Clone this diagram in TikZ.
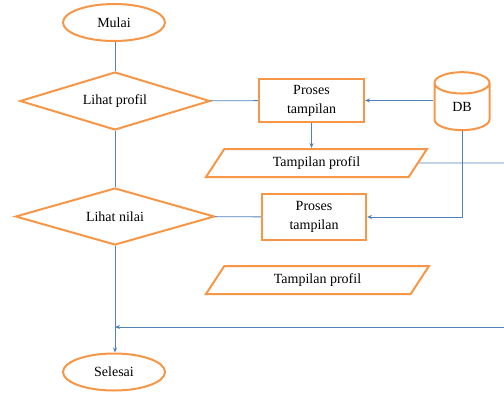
\documentclass[tikz,border=0pt]{standalone}
\usepackage{fontspec}
\setmainfont{Liberation Serif}
\usetikzlibrary{shapes.geometric,arrows.meta}

\begin{document}
\begin{tikzpicture}[x=1pt, y=-1pt, >={Stealth[length=5pt,width=4pt]}]
        % --- CONFIGURATION ---
        \definecolor{boxOrange}{RGB}{247, 150, 70}   % Bord des symboles
        \definecolor{linkBlue}{RGB}{79, 129, 189}    % Lignes de flux

        \tikzset{
            every node/.style={font=\fontsize{14}{19}\selectfont, text=black},
            shapebox/.style={draw=boxOrange, line width=2pt, inner sep=0pt},
            terminal/.style={shapebox, ellipse, minimum width=102pt, minimum height=37pt},
            choice/.style={shapebox, diamond, aspect=3.3},
            process/.style={shapebox, rectangle, align=center},
            io/.style={shapebox, trapezium, trapezium left angle=35, trapezium right angle=145,
                       trapezium stretches body, minimum height=28pt},
            link/.style={draw=linkBlue, line width=0.8pt}
        }

        \useasboundingbox (0,0) rectangle (504,394);

        % --- SYMBOLES ---
        \node[terminal] (mulai) at (114,22.5) {Mulai};
        \node[choice, minimum width=190pt, minimum height=58pt] (lprofil) at (115,101) {Lihat profil};
        \node[choice, minimum width=199pt, minimum height=57pt] (lnilai) at (115,216.5) {Lihat nilai};
        \node[terminal] (selesai) at (114,372) {Selesai};

        \node[process, minimum width=105pt, minimum height=43pt] (proses1) at (311.5,100.5) {Proses\\tampilan};
        \node[process, minimum width=104pt, minimum height=46pt] (proses2) at (314,217) {Proses\\tampilan};

        \node[shapebox, cylinder, shape border rotate=90, aspect=1.1,
              minimum width=55pt, minimum height=58pt] (db) at (462,107) {DB};

        \node[io, minimum width=221pt] (tampil1) at (316.5,163) {Tampilan profil};
        \node[io, minimum width=223pt] (tampil2) at (317.5,280) {Tampilan profil};

        % Extremites hors cadre
        \coordinate (sortieA) at (504,163);
        \coordinate (sortieB) at (504,327);
        \coordinate (retour) at (115,327);

        % --- FLUX ---
        \draw[link] (mulai.south -| lprofil.north) -- (lprofil.north);
        \draw[link] (lprofil) -- (lnilai);
        \draw[link, ->] (lnilai.south) -- (lnilai.south |- selesai.north);
        \draw[link] (lprofil) -- (proses1);
        \draw[link, ->] (db.west |- proses1.east) -- (proses1.east);
        \draw[link, ->] (proses1.south) -- (proses1.south |- tampil1.north);
        \draw[link] (tampil1.east) -- (sortieA);
        \draw[link, ->] (db.south) |- (proses2.east);
        \draw[link] (lnilai) -- (proses2);
        \draw[link, ->] (sortieB) -- (retour);

    \end{tikzpicture}
\end{document}
